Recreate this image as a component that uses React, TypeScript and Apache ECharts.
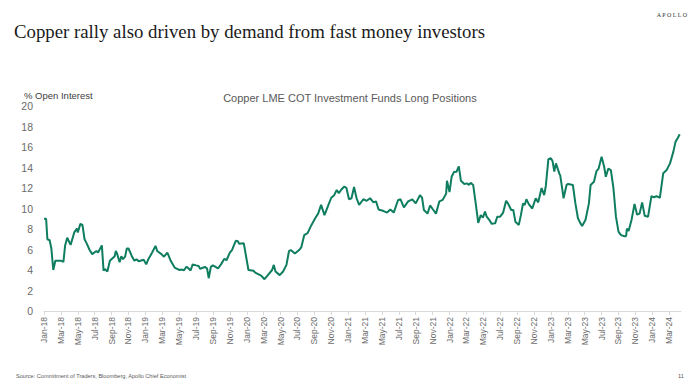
import React, { useEffect, useRef } from "react";
import * as echarts from "echarts";

// x = months since Jan-2018, y = % of open interest
const pts2018: [number, number][] = [
  [0, 9.0], [0.25, 9.0], [0.4, 7.0], [0.67, 6.9], [0.87, 6.1], [1.1, 4.0], [1.34, 4.9], [2.05, 4.9], [2.3, 4.8],
  [2.5, 6.4], [2.75, 7.15], [3.15, 6.45], [3.6, 7.7], [3.9, 8.05], [4.0, 7.65], [4.3, 8.5], [4.55, 8.4], [4.8, 7.0],
  [5.05, 6.6], [5.4, 5.95], [5.7, 5.55], [6.2, 5.85], [6.4, 5.7], [6.85, 6.4], [7.05, 3.93], [7.2, 4.1], [7.5, 3.85],
  [7.8, 4.9], [8.05, 5.1], [8.37, 5.35], [8.5, 5.85], [8.65, 5.6], [8.95, 4.75], [9.15, 5.35], [9.35, 5.05], [9.6, 5.3],
  [9.8, 6.1], [10.0, 6.1], [10.4, 5.35], [10.7, 4.9], [10.95, 5.05], [11.2, 4.85], [11.6, 4.95], [11.8, 5.0],
];
const pts2019: [number, number][] = [
  [12.1, 4.55], [12.35, 5.05], [12.8, 5.7], [13.2, 6.35], [13.4, 5.85], [13.9, 5.55], [14.2, 5.3], [14.6, 5.7],
  [15.0, 4.9], [15.5, 4.2], [16.05, 4.0], [16.35, 4.05], [16.55, 3.95], [16.85, 4.3], [17.0, 4.25], [17.35, 3.95],
  [17.6, 4.55], [18.0, 4.45], [18.3, 4.4], [18.5, 4.1], [18.75, 4.2], [19.05, 4.3], [19.3, 4.15], [19.5, 3.2],
  [19.75, 4.3], [20.0, 4.45], [20.6, 4.15], [20.95, 4.55], [21.35, 5.1], [21.6, 4.95], [22.0, 5.7], [22.25, 5.95],
  [22.7, 6.85], [22.95, 6.8], [23.1, 6.55], [23.65, 6.6],
];
const pts2020: [number, number][] = [
  [24.2, 4.0], [24.8, 3.93], [25.0, 3.75], [25.35, 3.6], [25.7, 3.45], [26.1, 3.1], [26.5, 3.5], [27.0, 4.0],
  [27.2, 4.5], [27.4, 3.85], [27.9, 3.5], [28.3, 3.85], [28.7, 4.5], [29.0, 5.85], [29.2, 5.95], [29.7, 5.6],
  [30.2, 5.95], [30.45, 6.2], [30.8, 7.4], [31.2, 7.6], [31.6, 8.3], [32.1, 9.05], [32.45, 9.5], [32.8, 10.35],
  [33.2, 9.35], [33.6, 10.2], [34.0, 11.05], [34.35, 11.3], [34.65, 11.8], [34.9, 11.5], [35.2, 11.85], [35.55, 12.15],
  [35.8, 12.0],
];
const pts2021: [number, number][] = [
  [36.1, 10.9], [36.4, 11.0], [36.7, 12.1], [37.0, 11.0], [37.3, 10.35], [37.8, 10.9], [38.2, 10.75], [38.6, 11.0],
  [39.0, 10.6], [39.3, 10.7], [39.6, 9.9], [40.2, 9.75], [40.6, 9.6], [41.0, 9.9], [41.4, 9.6], [41.9, 10.8],
  [42.2, 10.9], [42.6, 10.1], [43.1, 10.7], [43.6, 10.9], [44.0, 10.5], [44.5, 11.3], [44.75, 11.05], [44.97, 9.85],
  [45.4, 9.5], [45.7, 10.3], [46.0, 9.95], [46.4, 9.5], [46.8, 10.7], [47.2, 10.85], [47.6, 11.45],
];
const pts2022: [number, number][] = [
  [47.7, 12.7], [48.0, 11.6], [48.25, 13.1], [48.55, 13.6], [48.8, 13.55], [49.1, 14.1], [49.35, 12.7], [49.75, 12.4],
  [50.1, 12.45], [50.3, 12.3], [50.5, 12.5], [50.8, 12.3], [51.1, 10.5], [51.4, 8.6], [51.7, 9.35], [51.95, 9.1],
  [52.2, 9.7], [52.4, 9.2], [52.7, 8.9], [53.0, 8.5], [53.4, 8.55], [53.65, 9.2], [54.0, 9.2], [54.35, 9.6],
  [54.7, 10.75], [54.95, 10.45], [55.3, 9.85], [55.55, 9.85], [55.8, 8.7], [56.2, 8.4], [56.45, 9.35], [56.7, 10.5],
  [56.9, 10.35], [57.1, 10.9], [57.4, 10.4], [57.8, 10.0], [58.2, 11.0], [58.5, 10.6], [58.9, 12.0], [59.2, 11.3],
  [59.4, 12.2],
];
const pts2023: [number, number][] = [
  [59.7, 14.8], [60.0, 14.9], [60.2, 14.6], [60.4, 13.6], [60.6, 14.4], [61.0, 13.4], [61.1, 13.25], [61.3, 12.15],
  [61.5, 11.0], [61.85, 12.3], [62.05, 12.4], [62.6, 12.3], [62.9, 10.5], [63.2, 9.05], [63.5, 8.55], [63.7, 8.3],
  [64.1, 8.9], [64.5, 10.5], [64.7, 12.3], [65.1, 12.6], [65.4, 13.65], [65.65, 13.9], [66.0, 15.05], [66.3, 14.1],
  [66.5, 13.1], [66.8, 13.9], [67.1, 13.75], [67.4, 12.0], [67.7, 9.2], [68.0, 7.75], [68.3, 7.4], [68.7, 7.3],
  [68.9, 7.3], [69.0, 8.05], [69.2, 7.8], [69.55, 8.9], [69.9, 10.45], [70.2, 9.4], [70.5, 9.5], [70.8, 10.6],
  [71.1, 9.3], [71.5, 9.2], [71.9, 11.2],
];
const pts2024: [number, number][] = [
  [72.2, 11.1], [72.5, 11.2], [72.9, 11.05], [73.3, 13.45], [73.7, 13.75], [74.1, 14.4], [74.5, 15.55], [74.75, 16.5],
  [75.0, 16.85], [75.25, 17.25],
];

const monthNames = ["Jan", "Feb", "Mar", "Apr", "May", "Jun", "Jul", "Aug", "Sep", "Oct", "Nov", "Dec"];
const tickMonths: number[] = [];
for (let m = 0; m <= 74; m += 2) tickMonths.push(m);

const titleText = "Copper rally also driven by demand from fast money investors";
const chartTitle = "Copper LME COT Investment Funds Long Positions";
const yAxisName = "% Open Interest";
const sourceText = "Source: Commitment of Traders, Bloomberg, Apollo Chief Economist";

export default function App() {
  const ref = useRef<HTMLDivElement>(null);
  useEffect(() => {
    if (!ref.current) return;
    const chart = echarts.init(ref.current, null, { renderer: "svg" });
    const data = [...pts2018, ...pts2019, ...pts2020, ...pts2021, ...pts2022, ...pts2023, ...pts2024];
    const gray = "#595959";
    chart.setOption({
      animation: false,
      backgroundColor: "#ffffff",
      grid: { left: 44, right: 19, top: 106, bottom: 80 },
      xAxis: {
        type: "value",
        min: 0,
        max: 75.4,
        interval: 2,
        splitLine: { show: false },
        axisLine: { show: true, lineStyle: { color: "#d9d9d9", width: 1 } },
        axisTick: { show: true, customValues: tickMonths, length: 4, lineStyle: { color: "#d9d9d9" } },
        axisLabel: {
          customValues: tickMonths,
          rotate: 90,
          margin: 6,
          fontSize: 8.5,
          color: "#6b6b6b",
          fontFamily: "Liberation Sans",
          formatter: (v: number) => {
            const m = Math.round(v);
            return monthNames[m % 12] + "-" + String(18 + Math.floor(m / 12));
          },
        },
      },
      yAxis: {
        type: "value",
        min: 0,
        max: 20,
        interval: 2,
        splitLine: { show: false },
        axisLine: { show: false },
        axisTick: { show: false },
        axisLabel: { fontSize: 10.5, color: "#6b6b6b", margin: 11, fontFamily: "Liberation Sans" },
      },
      series: [
        {
          type: "line",
          data,
          showSymbol: false,
          symbol: "none",
          lineStyle: { color: "#0f7d5f", width: 2 },
          itemStyle: { color: "#0f7d5f" },
        },
      ],
      graphic: [
        {
          type: "text",
          left: 14,
          top: 22,
          style: { text: titleText, font: "18.8px 'Liberation Serif'", fill: "#1a1a1a" },
        },
        {
          type: "text",
          right: 12,
          top: 12,
          style: { text: "A P O L L O", font: "6px 'Liberation Serif'", fill: "#333333" },
        },
        {
          type: "text",
          left: 24,
          top: 90,
          style: { text: yAxisName, font: "9.5px 'Liberation Sans'", fill: "#404040" },
        },
        {
          type: "text",
          left: "center",
          top: 92,
          style: { text: chartTitle, font: "11px 'Liberation Sans'", fill: gray },
        },
        {
          type: "text",
          left: 16,
          top: 373,
          style: { text: sourceText, font: "5.6px 'Liberation Sans'", fill: gray },
        },
        {
          type: "text",
          left: 678,
          top: 373,
          style: { text: "11", font: "5.6px 'Liberation Sans'", fill: gray },
        },
      ],
    });
    return () => chart.dispose();
  }, []);
  return (
    <div
      ref={ref}
      style={{ position: "fixed", left: 0, top: 0, width: 700, height: 391, background: "#fff" }}
    />
  );
}
